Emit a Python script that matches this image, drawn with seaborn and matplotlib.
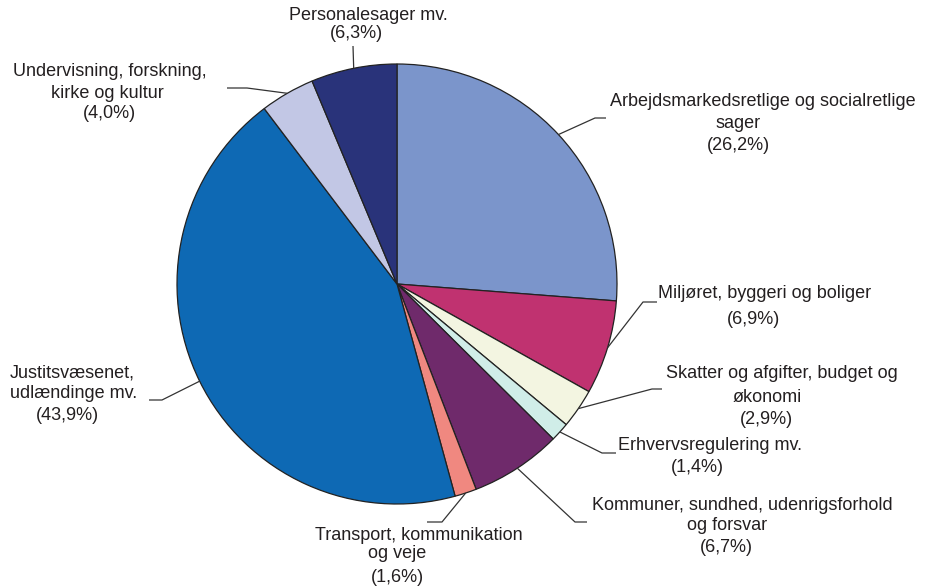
import numpy as np
import matplotlib
matplotlib.use("Agg")
import matplotlib.pyplot as plt
import seaborn as sns

# Case areas and their shares (percent), clockwise from 12 o'clock
categories = [
    "Arbejdsmarkedsretlige og socialretlige sager",
    "Miljøret, byggeri og boliger",
    "Skatter og afgifter, budget og økonomi",
    "Erhvervsregulering mv.",
    "Kommuner, sundhed, udenrigsforhold og forsvar",
    "Transport, kommunikation og veje",
    "Justitsvæsenet, udlændinge mv.",
    "Undervisning, forskning, kirke og kultur",
    "Personalesager mv.",
]
shares = [26.2, 6.9, 2.9, 1.4, 6.7, 1.6, 43.9, 4.0, 6.3]
colors = ["#7B95CB", "#C03270", "#F3F5E1", "#D0EDE8", "#6F2A6B",
          "#F08880", "#0E69B4", "#C2C7E5", "#29337A"]

# Label text lines (the share is added as the last line)
label_lines = [
    ["Arbejdsmarkedsretlige og socialretlige", "sager"],
    ["Miljøret, byggeri og boliger"],
    ["Skatter og afgifter, budget og", "økonomi"],
    ["Erhvervsregulering mv."],
    ["Kommuner, sundhed, udenrigsforhold", "og forsvar"],
    ["Transport, kommunikation", "og veje"],
    ["Justitsvæsenet,", "udlændinge mv."],
    ["Undervisning, forskning,", "kirke og kultur"],
    ["Personalesager mv."],
]

sns.set_theme(style="white")
plt.rcParams["font.family"] = ["Liberation Sans", "DejaVu Sans"]

W, H = 926, 587
fig = plt.figure(figsize=(W / 100, H / 100), dpi=100)
ax = fig.add_axes([0, 0, 1, 1])

cx, cy, r = 397, H - 284, 220
wedges, _ = ax.pie(shares, colors=colors, startangle=90, counterclock=False,
                   center=(cx, cy), radius=r, frame=True,
                   wedgeprops=dict(edgecolor="#222222", linewidth=0.9))
ax.set_xlim(0, W)
ax.set_ylim(0, H)
ax.set_aspect("equal")
ax.axis("off")

# Leader layout: elbow point, end of horizontal run, and per-line text anchors
# (pixel coordinates measured from the top-left corner)
layout = [
    dict(elbow=(595, 118), end=(606, 118),
         lines=[(763, 101), (738, 123), (738, 145)]),
    dict(elbow=(643, 302), end=(657, 302),
         lines=[(765, 294), (754, 320)]),
    dict(elbow=(652, 389), end=(662, 389),
         lines=[(782, 374), (767, 397), (766, 420)]),
    dict(elbow=(602, 453), end=(616, 453),
         lines=[(710, 445), (697, 467)]),
    dict(elbow=(575, 522), end=(587, 522),
         lines=[(742, 505), (727, 525), (726, 547)]),
    dict(elbow=(442, 522), end=(427, 522),
         lines=[(419, 535), (397, 554), (397, 577)]),
    dict(elbow=(162, 400), end=(149, 400),
         lines=[(72, 373), (74, 393), (67, 416)]),
    dict(elbow=(247, 88), end=(227, 88),
         lines=[(110, 72), (107, 93), (109, 113)]),
    dict(elbow=(353, 46), end=(353, 46),
         lines=[(368, 15), (356, 34)]),
]

def fmt(v):
    return f"({v:.1f}%)".replace(".", ",")

text_color = "#231F20"
for w, val, lines, lay in zip(wedges, shares, label_lines, layout):
    mid = np.deg2rad((w.theta1 + w.theta2) / 2)
    ex, ey = cx + r * np.cos(mid), cy + r * np.sin(mid)
    bx, by = lay["elbow"][0], H - lay["elbow"][1]
    hx, hy = lay["end"][0], H - lay["end"][1]
    ax.plot([ex, bx, hx], [ey, by, hy], color="#333333", lw=0.9,
            solid_capstyle="butt")
    for txt, (tx, ty) in zip(lines + [fmt(val)], lay["lines"]):
        ax.text(tx, H - ty, txt, ha="center", va="center",
                fontsize=13, color=text_color)

fig.savefig("out.png", dpi=100)
